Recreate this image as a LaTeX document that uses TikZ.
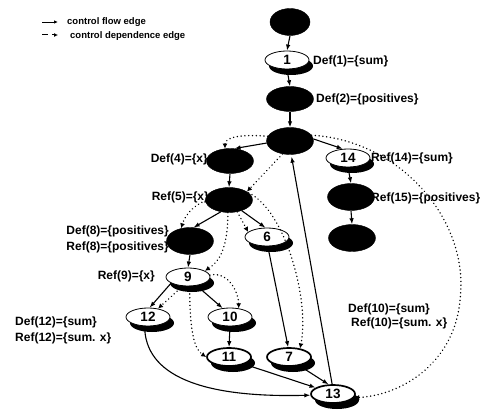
\documentclass[tikz,border=0pt]{standalone}
\usepackage{fontspec}
\setmainfont{Liberation Sans}
\usetikzlibrary{arrows.meta,shapes.geometric,shadows}
\begin{document}
\begin{tikzpicture}[x=1pt,y=1pt,
  blk/.style={ellipse,fill=black,draw=black,minimum width=47pt,minimum height=27pt,inner sep=0pt},
  wht/.style={ellipse,draw=black,fill=white,line width=0.8pt,minimum width=44pt,minimum height=18pt,inner sep=0pt,
     font=\fontsize{13.5}{13.5}\selectfont\bfseries,
     drop shadow={shadow xshift=4pt,shadow yshift=-6pt,fill=black,opacity=1}},
  bwht/.style={wht,line width=1.7pt},
  lbl/.style={font=\fontsize{12}{13}\selectfont\bfseries,inner sep=0pt},
  leg/.style={font=\fontsize{9.5}{10}\selectfont\bfseries,inner sep=0pt,anchor=west},
  flow/.style={line width=1.1pt,-{Latex[length=6pt,width=4.5pt]}},
  dep/.style={line width=1.6pt,dash pattern=on 0.01pt off 3.8pt,line cap=round,-{Latex[length=5pt,width=5pt]}},
]
\fill[white] (0,0) rectangle (489,-411);
\useasboundingbox (0,0) rectangle (489,-411);

% legend
\coordinate (la1) at (42,-22);
\coordinate (la2) at (58,-22);
\coordinate (lb1) at (42,-35);
\coordinate (lb2) at (58,-35);
\draw[line width=0.9pt,-{Latex[length=4pt,width=3.5pt]}] (la1) -- (la2);
\draw[line width=1pt,dash pattern=on 6pt off 4pt,-{Latex[length=4pt,width=4pt]}] (lb1) -- (lb2);
\node[leg] (legA) at (67,-22) {control flow edge};
\node[leg] (legB) at (70,-36) {control dependence edge};

% nodes
\node[blk,minimum width=40pt] (n0) at (290,-22) {};
\node[wht] (n1) at (287,-60) {1};
\node[blk,minimum height=25pt] (n2) at (290,-99) {};
\node[blk] (n3) at (290,-141) {};
\node[blk,minimum height=25pt] (n4) at (230,-161) {};
\node[blk,minimum height=25pt] (n5) at (229,-200) {};
\node[blk] (n8) at (190,-241) {};
\node[wht] (n6) at (267,-237) {6};
\node[wht] (n9) at (188,-277) {9};
\node[wht] (n12) at (148,-317) {12};
\node[wht] (n10) at (230,-317) {10};
\node[bwht] (n11) at (229,-357) {11};
\node[bwht] (n7) at (289,-357) {7};
\node[bwht] (n13) at (333,-394) {13};
\node[wht] (n14) at (348,-158) {14};
\node[blk] (n15) at (351,-197) {};
\node[blk] (n16) at (352,-238) {};

% labels
\node[lbl,anchor=west] (t1) at (313,-61) {Def(1)=\{sum\}};
\node[lbl,anchor=west] (t2) at (316,-99) {Def(2)=\{positives\}};
\node[lbl,anchor=east] (t4) at (208,-159) {Def(4)=\{x\}};
\node[lbl,anchor=east] (t5) at (209,-197) {Ref(5)=\{x\}};
\node[lbl,anchor=east] (t8a) at (169,-231) {Def(8)=\{positives\}};
\node[lbl,anchor=east] (t8b) at (169,-247) {Ref(8)=\{positives\}};
\node[lbl,anchor=east] (t9) at (155,-276) {Ref(9)=\{x\}};
\node[lbl,anchor=west] (t12a) at (15,-322) {Def(12)=\{sum\}};
\node[lbl,anchor=west] (t12b) at (15,-338) {Ref(12)=\{sum. x\}};
\node[lbl,anchor=west] (t14) at (371,-158) {Ref(14)=\{sum\}};
\node[lbl,anchor=west] (t15) at (371,-198) {Ref(15)=\{positives\}};
\node[lbl,anchor=west] (t10a) at (348,-309) {Def(10)=\{sum\}};
\node[lbl,anchor=west] (t10b) at (351,-323) {Ref(10)=\{sum. x\}};

% control flow edges
\draw[flow] (n0.south) -- (n1.north);
\draw[flow] (n1.south) -- (n2.north);
\draw[flow] (n2.south) -- (n3.north);
\draw[flow] (n3.185) -- (n4.70);
\draw[flow] (n3.5) -- (n14.120);
\draw[flow] (n4.south) -- (n5.north);
\draw[flow] (n5.235) -- (n8.75);
\draw[flow] (n5.-40) -- (n6.100);
\draw[flow] (n8.south) -- (n9.north);
\draw[flow] (n9.200) -- (n12.80);
\draw[flow] (n9.-45) -- (n10.130);
\draw[flow] (n10.south) -- (n11.north);
\draw[flow] (n6.-85) -- (n7.95);
\draw[flow] (n11.-25) -- (n13.160);
\draw[flow] (n7.-40) -- (n13.115);
\draw[flow] (n12.250) .. controls (145,-375) and (200,-398) .. (n13.183);
\draw[flow,shorten >=2pt] (n13.95) -- (n3.-85);
\draw[flow] (n14.south) -- (n15.north);
\draw[flow] (n15.south) -- (n16.north);

% control dependence edges
\draw[dep] (n3.168) .. controls +(-25,2) and +(0,12) .. (n4.112);
\draw[dep] (n3.240) -- (n5.25);
\draw[dep] (n3.15) .. controls (400,-140) and (470,-220) .. (460,-300)
           .. controls (455,-360) and (405,-395) .. (n13.-10);
\draw[dep] (n5.182) .. controls +(-15,-6) and +(3,10) .. (n8.125);
\draw[dep] (n5.-95) .. controls +(0,-40) and +(12,8) .. (n9.20);
\draw[dep] (n5.-55) -- (n6.165);
\draw[dep] (n5.20) .. controls (285,-210) and (310,-300) .. (n7.38);
\draw[dep] (n9.240) -- (n12.40);
\draw[dep] (n9.5) .. controls +(20,4) and +(0,14) .. (n10.45);
\draw[dep] (n9.-80) .. controls +(0,-45) and +(-12,8) .. (n11.180);
\end{tikzpicture}
\end{document}
